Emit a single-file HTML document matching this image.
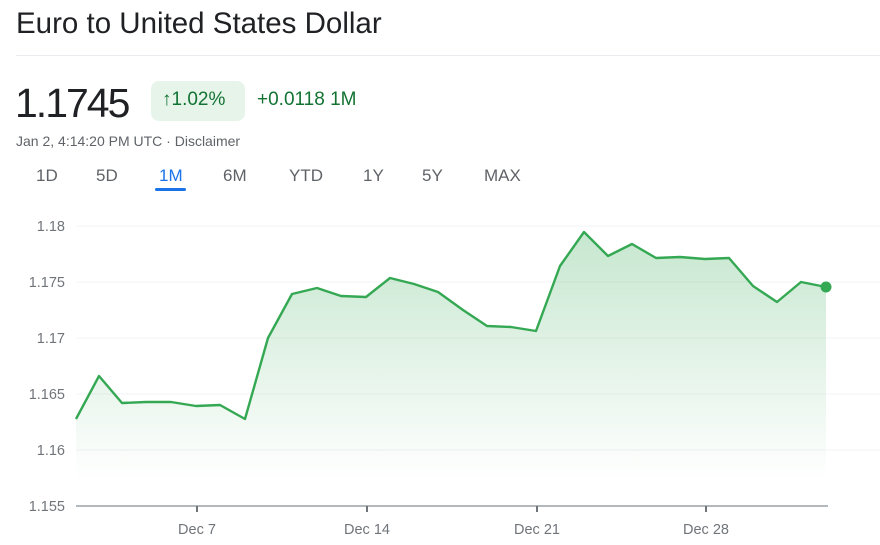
<!DOCTYPE html>
<html><head><style>
body{margin:0;width:880px;height:545px;background:#fff;font-family:"Liberation Sans",Arial,sans-serif;position:relative;overflow:hidden}
.a{position:absolute;white-space:nowrap}
</style></head><body>
<div class="a" style="left:16px;top:7px;font-size:29.5px;color:#202124">Euro to United States Dollar</div>
<div class="a" style="left:16px;top:55px;width:864px;height:1px;background:#e8eaed"></div>
<div class="a" style="left:15px;top:80px;font-size:41px;color:#202124;letter-spacing:-2px">1.1745</div>
<div class="a" style="left:151px;top:81px;width:94px;height:40px;background:#e6f4ea;border-radius:8px"></div>
<div class="a" style="left:162px;top:89px;font-size:19px;color:#137333">↑1.02%</div>
<div class="a" style="left:257px;top:89px;font-size:19px;color:#137333">+0.0118 1M</div>
<div class="a" style="left:16px;top:133px;font-size:14px;color:#5f6368">Jan 2, 4:14:20 PM UTC · Disclaimer</div>
<div class="a" style="left:36px;top:166px;font-size:17px;color:#5f6368">1D</div>
<div class="a" style="left:96px;top:166px;font-size:17px;color:#5f6368">5D</div>
<div class="a" style="left:159px;top:166px;font-size:17px;color:#1a73e8">1M</div>
<div class="a" style="left:155px;top:188px;width:31px;height:3px;background:#1a73e8;border-radius:2px"></div>
<div class="a" style="left:223px;top:166px;font-size:17px;color:#5f6368">6M</div>
<div class="a" style="left:289px;top:166px;font-size:17px;color:#5f6368">YTD</div>
<div class="a" style="left:363px;top:166px;font-size:17px;color:#5f6368">1Y</div>
<div class="a" style="left:422px;top:166px;font-size:17px;color:#5f6368">5Y</div>
<div class="a" style="left:484px;top:166px;font-size:17px;color:#5f6368">MAX</div>
<svg class="a" style="left:0;top:0" width="880" height="545">
<defs><linearGradient id="g" x1="0" y1="0" x2="0" y2="1"><stop offset="0" stop-color="#34a853" stop-opacity="0.28"/><stop offset="1" stop-color="#34a853" stop-opacity="0"/></linearGradient></defs>
<g stroke="#f1f3f4" stroke-width="1">
<line x1="76" y1="226" x2="880" y2="226"/><line x1="76" y1="282" x2="880" y2="282"/><line x1="76" y1="338" x2="880" y2="338"/><line x1="76" y1="394" x2="880" y2="394"/><line x1="76" y1="450" x2="880" y2="450"/>
</g>
<path d="M76,419 L99,376 L122,403 L146,402 L171,402 L196,406 L220,405 L245,419 L268,338 L292,294 L317,288 L341,296 L366,297 L390,278 L414,284 L438,292 L463,310 L487,326 L511,327 L536,331 L560,266 L584,232 L608,256 L632,244 L656,258 L680,257 L705,259 L729,258 L753,286 L777,302 L801,282 L826,287 L826,480 L76,480 Z" fill="url(#g)"/>
<polyline fill="none" stroke="#34a853" stroke-width="2.4" stroke-linejoin="round" points="76,419 99,376 122,403 146,402 171,402 196,406 220,405 245,419 268,338 292,294 317,288 341,296 366,297 390,278 414,284 438,292 463,310 487,326 511,327 536,331 560,266 584,232 608,256 632,244 656,258 680,257 705,259 729,258 753,286 777,302 801,282 826,287"/>
<circle cx="826" cy="287" r="5.5" fill="#34a853"/>
<line x1="76" y1="506" x2="828" y2="506" stroke="#9aa0a6" stroke-width="1.5"/>
<g stroke="#70757a" stroke-width="2"><line x1="197" y1="506" x2="197" y2="512"/><line x1="367" y1="506" x2="367" y2="512"/><line x1="537" y1="506" x2="537" y2="512"/><line x1="706" y1="506" x2="706" y2="512"/></g>
<g font-family="Liberation Sans,Arial,sans-serif" font-size="14.5" fill="#70757a" text-anchor="end">
<text x="65" y="231">1.18</text><text x="65" y="287">1.175</text><text x="65" y="343">1.17</text><text x="65" y="399">1.165</text><text x="65" y="455">1.16</text><text x="65" y="511">1.155</text>
</g>
<g font-family="Liberation Sans,Arial,sans-serif" font-size="14.5" fill="#70757a" text-anchor="middle">
<text x="197" y="534">Dec 7</text><text x="367" y="534">Dec 14</text><text x="537" y="534">Dec 21</text><text x="706" y="534">Dec 28</text>
</g>
</svg>
</body></html>
